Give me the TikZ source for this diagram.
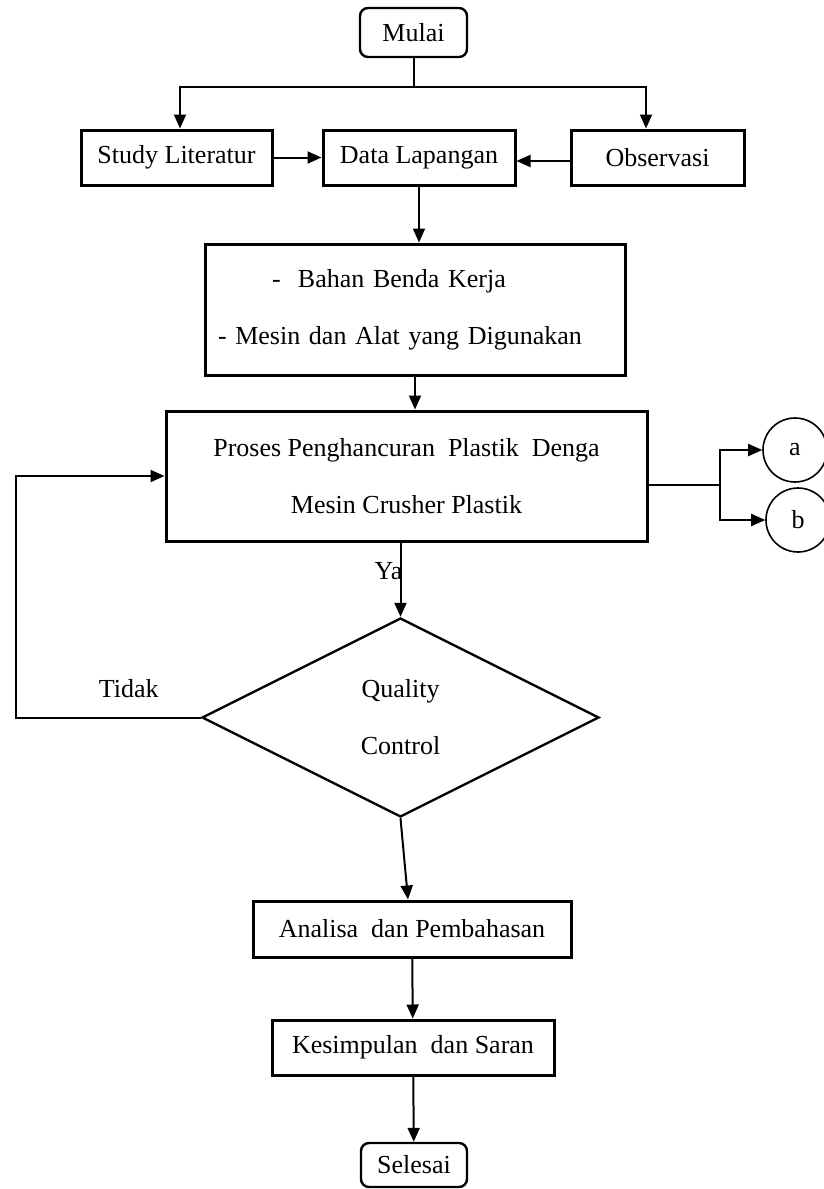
\documentclass[tikz,border=0pt]{standalone}
\usepackage{fontspec}
\setmainfont{Liberation Serif}
\usetikzlibrary{shapes.geometric,arrows.meta}

\begin{document}
\begin{tikzpicture}[x=0.5pt,y=-0.5pt,
  txt/.style={font=\fontsize{13}{28.5}\selectfont},
  box/.style={draw,txt,line width=1.5pt,inner sep=0pt,align=center},
  term/.style={box,rounded corners=4pt,line width=1.2pt},
  arr/.style={-{Triangle[length=7pt,width=6pt]},line width=1pt},
  plain/.style={line width=1pt}]
\useasboundingbox (0,0) rectangle (824,1189);
\node[term,minimum width=53.5pt,minimum height=24.5pt] (mulai) at (413.5,32.5) {Mulai};
\node[box,minimum width=95.5pt,minimum height=27.5pt] (study) at (176.5,157.5) {Study Literatur};
\node[box,minimum width=96pt,minimum height=27.5pt] (data) at (419,157.5) {Data Lapangan};
\node[box,minimum width=86.5pt,minimum height=27.5pt] (obs) at (657.5,157.5) {Observasi};
\node[box,minimum width=210pt,minimum height=65.5pt,text width=197pt,align=left] (bahan) at (415,309.5)
  {\hspace*{27pt}-\ \ Bahan Benda Kerja\\- Mesin dan Alat yang Digunakan};
\node[box,minimum width=240.5pt,minimum height=65pt] (proses) at (406.5,476)
  {Proses Penghancuran\ \ Plastik\ \ Denga\\Mesin\ Crusher\ Plastik};
\node[draw,diamond,txt,line width=1.2pt,minimum width=198.5pt,minimum height=99.5pt,inner sep=0pt,align=center] (qc) at (400.5,717.5)
  {Quality\\Control};
\node[draw,circle,txt,line width=0.8pt,minimum size=32pt,inner sep=0pt] (a) at (795,450) {a};
\node[draw,circle,txt,line width=0.8pt,minimum size=32pt,inner sep=0pt] (b) at (798,520) {b};
\node[box,minimum width=159pt,minimum height=28pt] (ana) at (412,929) {Analisa\ \ dan Pembahasan};
\node[box,minimum width=141pt,minimum height=27.5pt] (kes) at (413,1047.5) {Kesimpulan\ \ dan Saran};
\node[term,minimum width=53pt,minimum height=22pt] (sel) at (414,1165) {Selesai};

\coordinate (split) at (413.5,87);
\draw[plain] (mulai.south) -- (split);
\draw[arr] (split) -| ([xshift=1.75pt]study.north);
\draw[arr] (split) -| ([xshift=-5.75pt]obs.north);
\draw[arr] (study) -- (data);
\draw[arr] ([yshift=-1.75pt]obs.west) -- ([yshift=-1.75pt]data.east);
\draw[arr] (data.south) -- (data.south |- bahan.north);
\draw[arr] (bahan.south) -- (bahan.south |- proses.north);
\draw[arr] (qc.north |- proses.south) -- node[txt,pos=0.38,xshift=-6pt] (ya) {Ya} (qc.north);

\coordinate (back) at (16,717.5);
\draw[arr] (qc.west) -- node[txt,pos=0.39,above=6pt] (tidak) {Tidak} (back) |- (proses.west);

\coordinate (fork) at (720,485);
\draw[plain] (proses.east |- fork) -- (fork);
\draw[arr] (fork) |- (a.west);
\draw[arr] (fork) |- (b.west);

\draw[arr] (qc.south) -- ([xshift=-2pt]ana.north);
\draw[arr] (ana) -- (kes);
\draw[arr] (kes) -- (sel);
\end{tikzpicture}
\end{document}
